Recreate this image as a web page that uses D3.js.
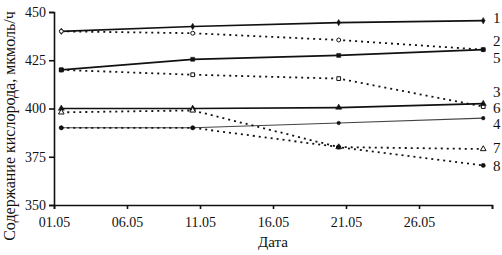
<!DOCTYPE html>
<meta charset="utf-8">
<script src="https://d3js.org/d3.v7.min.js"></script>
<style>
    body { margin: 0; background: #fff; }
    svg text { font-family: "Liberation Serif"; }
    .axis path, .axis line { stroke: #111; stroke-width: 1.6; }
    .axis text { font-size: 14px; fill: #111; }
</style>
<body>
<svg width="502" height="255" class="chart"></svg>
</body>
<script>
    // days of May on which measurements were taken
    const days = [1.5, 10.5, 20.5, 30.4];

    const xTicks = [1, 6, 11, 16, 21, 26, 31];
    const xTickLabels = ['01.05', '06.05', '11.05', '16.05', '21.05', '26.05', ''];
    const yTicks = [350, 375, 400, 425, 450];

    const names = ['1', '2', '3', '4', '5', '6', '7', '8'];
    const s1 = [440, 442.5, 444.5, 445.5];
    const s2 = [440, 439, 435.5, 430.5];
    const s3 = [420, 417.5, 415.5, 401];
    const s4 = [390, 390, 392.5, 395];
    const s5 = [420, 425.5, 427.5, 430.5];
    const s6 = [400, 400, 400.5, 402.5];
    const s7 = [398, 399, 380, 379];
    const s8 = [390, 390, 380, 370.5];
    // where the number of each curve sits at the right edge (value units)
    const labelAt = [447, 435, 408.5, 392, 426.5, 400.5, 379.5, 370.5];

    const series = [s1, s2, s3, s4, s5, s6, s7, s8];
    const dashed = [false, true, true, false, false, false, true, true];
    const thin = [false, false, false, true, false, false, false, false];
    const symbols = [d3.symbolDiamond, d3.symbolCircle, d3.symbolSquare, d3.symbolCircle,
        d3.symbolSquare, d3.symbolTriangle, d3.symbolTriangle, d3.symbolCircle];
    const open = [false, true, true, false, false, false, true, false];
    const symSize = [12, 12, 14, 10, 16, 16, 14, 14];

    const margin = { top: 12, right: 10, bottom: 50, left: 54 },
        width = 492 - margin.left,
        height = 205 - margin.top;

    const svg = d3.select('.chart');
    const g = svg.append('g')
        .attr('transform', 'translate(' + margin.left + ',' + margin.top + ')');

    const x = d3.scaleLinear().domain([1, 31]).range([0, width]);
    const y = d3.scaleLinear().domain([350, 450]).range([height, 0]);

    g.append('g')
        .attr('class', 'axis')
        .attr('transform', 'translate(0,' + height + ')')
        .call(d3.axisBottom(x).tickValues(xTicks).tickSizeOuter(0).tickSize(4)
            .tickFormat((d, i) => xTickLabels[i]))
        .selectAll('text').attr('dy', '1.1em');

    g.append('g')
        .attr('class', 'axis')
        .call(d3.axisLeft(y).tickValues(yTicks).tickSizeOuter(0).tickSize(5).tickPadding(3));

    g.selectAll('.axis').attr('font-family', null);

    const line = d3.line()
        .x((d, i) => x(days[i]))
        .y(d => y(d));

    series.forEach((s, k) => {
        g.append('path')
            .datum(s)
            .attr('d', line)
            .attr('fill', 'none')
            .attr('stroke', thin[k] ? '#444' : '#111')
            .attr('stroke-width', thin[k] ? 1.1 : (dashed[k] ? 1.8 : 1.7))
            .attr('stroke-dasharray', dashed[k] ? '2,4' : null);

        g.selectAll('.m' + k)
            .data(s)
            .enter()
            .append('path')
            .attr('class', 'm' + k)
            .attr('transform', (d, i) => 'translate(' + x(days[i]) + ',' + y(d) + ')')
            .attr('d', d3.symbol().type(symbols[k]).size(symSize[k]))
            .attr('fill', open[k] ? '#fff' : '#111')
            .attr('stroke', '#111')
            .attr('stroke-width', open[k] ? 1 : 0.5);
    });

    g.selectAll('.lab')
        .data(names)
        .enter()
        .append('text')
        .attr('class', 'lab')
        .attr('x', width + 1)
        .attr('y', (d, i) => y(labelAt[i]))
        .attr('dy', '0.35em')
        .attr('font-size', 15)
        .attr('fill', '#111')
        .text(d => d);

    g.append('text')
        .attr('x', width / 2)
        .attr('y', height + 42)
        .attr('text-anchor', 'middle')
        .attr('font-size', 15)
        .attr('fill', '#111')
        .text('Дата');

    svg.append('text')
        .attr('transform', 'rotate(-90)')
        .attr('x', -126)
        .attr('y', 15)
        .attr('text-anchor', 'middle')
        .attr('font-size', 16)
        .attr('fill', '#111')
        .text('Содержание кислорода, мкмоль/ч');
</script>
